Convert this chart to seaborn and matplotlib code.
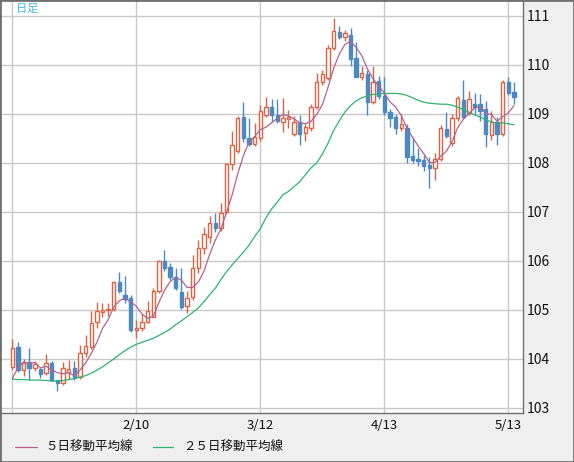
import numpy as np
import pandas as pd
import matplotlib
matplotlib.use("Agg")
import matplotlib.pyplot as plt
from matplotlib.lines import Line2D
from matplotlib.patches import Rectangle
import seaborn as sns

# daily candles, 2021-01-11 .. 2021-05-14 (one per trading day)
opens = [103.84, 104.24, 103.78, 103.93, 103.81, 103.79, 103.71, 103.92, 103.57, 103.50,
         103.74, 103.82, 103.64, 104.12, 104.25, 104.76, 104.95, 104.99, 105.03, 105.57,
         105.31, 105.24, 104.59, 104.63, 104.76, 104.86, 105.39, 106.01, 105.88, 105.68,
         105.37, 105.08, 105.27, 105.85, 106.26, 106.48, 106.77, 106.68, 107.01, 107.97,
         108.25, 108.93, 108.50, 108.39, 108.50, 108.98, 109.14, 108.98, 108.83, 108.90,
         108.59, 108.83, 108.61, 108.71, 109.14, 109.66, 109.74, 110.34, 110.68, 110.57,
         110.61, 110.14, 109.75, 109.82, 109.24, 109.67, 109.37, 109.05, 108.93, 108.72,
         108.71, 108.14, 108.08, 108.06, 107.96, 107.89, 108.09, 108.69, 108.40, 108.91,
         109.29, 109.03, 109.20, 109.20, 109.10, 108.57, 108.84, 108.59, 109.66, 109.45]
highs = [104.41, 104.35, 104.01, 104.22, 103.95, 103.82, 104.10, 103.95, 103.58, 103.94,
         103.98, 103.96, 104.29, 104.48, 104.97, 105.17, 105.15, 105.14, 105.60, 105.78,
         105.69, 105.30, 104.80, 104.91, 105.19, 105.45, 106.03, 106.22, 105.95, 105.85,
         105.85, 105.38, 106.12, 106.43, 106.70, 106.92, 106.97, 107.18, 108.00, 108.65,
         108.95, 109.24, 108.91, 108.81, 109.18, 109.35, 109.31, 109.31, 109.32, 109.08,
         108.95, 108.98, 108.80, 109.20, 109.83, 109.90, 110.40, 110.95, 110.79, 110.72,
         110.75, 110.47, 109.97, 109.90, 109.97, 109.78, 109.76, 109.10, 109.00, 109.00,
         108.80, 108.54, 108.30, 108.17, 108.12, 108.20, 108.78, 109.05, 109.00, 109.37,
         109.69, 109.47, 109.42, 109.40, 109.26, 109.06, 108.94, 109.69, 109.76, 109.65]
lows = [103.78, 103.74, 103.66, 103.57, 103.76, 103.62, 103.67, 103.55, 103.35, 103.47,
        103.60, 103.58, 103.60, 104.05, 104.20, 104.63, 104.85, 104.87, 104.98, 105.34,
        105.14, 104.56, 104.43, 104.58, 104.74, 104.86, 105.35, 105.80, 105.62, 105.40,
        105.03, 104.93, 105.20, 105.75, 106.15, 106.36, 106.60, 106.62, 106.95, 107.86,
        108.20, 108.43, 108.35, 108.35, 108.45, 108.94, 108.84, 108.81, 108.64, 108.71,
        108.55, 108.37, 108.45, 108.65, 109.10, 109.60, 109.70, 110.30, 110.53, 110.48,
        109.97, 109.75, 109.70, 108.98, 109.20, 109.30, 108.98, 108.73, 108.60, 108.65,
        108.00, 108.00, 107.93, 107.83, 107.48, 107.65, 108.05, 108.50, 108.35, 108.85,
        108.91, 108.98, 109.00, 108.86, 108.33, 108.47, 108.36, 108.55, 109.39, 109.20]
closes = [104.23, 103.78, 103.92, 103.81, 103.90, 103.70, 103.91, 103.57, 103.50, 103.81,
          103.79, 103.62, 104.12, 104.27, 104.73, 104.97, 105.00, 105.03, 105.57, 105.39,
          105.22, 104.59, 104.63, 104.76, 104.97, 105.39, 106.01, 105.85, 105.68, 105.44,
          105.07, 105.24, 105.85, 106.26, 106.55, 106.77, 106.68, 106.98, 107.97, 108.37,
          108.91, 108.50, 108.39, 108.54, 109.06, 109.14, 108.97, 108.86, 108.91, 108.93,
          108.83, 108.59, 108.73, 109.15, 109.66, 109.82, 110.34, 110.70, 110.57, 110.65,
          110.12, 109.76, 109.83, 109.25, 109.65, 109.37, 109.05, 108.92, 108.72, 108.79,
          108.13, 108.06, 108.04, 107.94, 107.89, 108.09, 108.71, 108.55, 108.91, 109.32,
          108.94, 109.31, 109.14, 109.07, 108.59, 108.84, 108.59, 109.65, 109.43, 109.35]

# moving averages as drawn on the chart
ma5 = [103.60, 103.82, 103.94, 103.91, 103.93, 103.82, 103.85, 103.78, 103.72, 103.70,
       103.72, 103.66, 103.77, 103.92, 104.11, 104.34, 104.62, 104.80, 105.06, 105.19,
       105.24, 105.16, 105.08, 104.92, 104.83, 104.87, 105.15, 105.40, 105.58, 105.67,
       105.61, 105.46, 105.46, 105.57, 105.79, 106.13, 106.42, 106.65, 106.99, 107.35,
       107.78, 108.15, 108.43, 108.54, 108.68, 108.73, 108.82, 108.91, 108.99, 108.96,
       108.90, 108.82, 108.80, 108.85, 108.99, 109.19, 109.54, 109.93, 110.22, 110.42,
       110.48, 110.36, 110.19, 109.92, 109.72, 109.57, 109.43, 109.25, 109.14, 108.97,
       108.72, 108.52, 108.35, 108.19, 108.01, 108.01, 108.14, 108.24, 108.43, 108.72,
       108.89, 109.01, 109.12, 109.16, 109.01, 108.99, 108.85, 108.95, 109.02, 109.17]
ma25 = [103.59, 103.58, 103.58, 103.57, 103.57, 103.57, 103.56, 103.55, 103.55, 103.56,
        103.58, 103.60, 103.63, 103.66, 103.71, 103.77, 103.84, 103.92, 104.00, 104.09,
        104.17, 104.24, 104.30, 104.34, 104.38, 104.42, 104.48, 104.54, 104.61, 104.70,
        104.78, 104.86, 104.95, 105.04, 105.17, 105.31, 105.44, 105.62, 105.78, 105.92,
        106.05, 106.18, 106.32, 106.50, 106.66, 106.88, 107.06, 107.20, 107.35, 107.42,
        107.52, 107.62, 107.76, 107.90, 108.00, 108.18, 108.40, 108.66, 108.86, 109.04,
        109.17, 109.27, 109.33, 109.37, 109.40, 109.41, 109.42, 109.42, 109.42, 109.41,
        109.38, 109.33, 109.28, 109.24, 109.22, 109.21, 109.20, 109.20, 109.18, 109.14,
        109.09, 109.04, 108.98, 108.94, 108.88, 108.84, 108.81, 108.82, 108.80, 108.78]

grid_days = [0, 22, 44, 66, 88]
label_days = [22, 44, 66, 88]
date_labels = ["2/10", "3/12", "4/13", "5/13"]
price_ticks = [103, 104, 105, 106, 107, 108, 109, 110, 111]
legend_labels = ["５日移動平均線", "２５日移動平均線"]

UP = "#dc6443"
DOWN = "#4b89c2"
MA5_COLOR = "#b4628f"
MA25_COLOR = "#2fb36f"
GRID = "#c8c8c8"
FRAME = "#707070"

df = pd.DataFrame({"open": opens, "high": highs, "low": lows, "close": closes,
                   "ma5": ma5, "ma25": ma25})
df["day"] = np.arange(len(df))
df["up"] = df["close"] >= df["open"]

sns.set_theme(style="white")
plt.rcParams["font.family"] = ["Noto Sans CJK JP", "DejaVu Sans"]

W, H = 574, 462
fig = plt.figure(figsize=(W / 100, H / 100), dpi=100, facecolor="#efefef")
ax = fig.add_axes([1 / W, (H - 412.5) / H, 522 / W, 411.5 / H])
ax.set_facecolor("white")

# grid
for p in price_ticks:
    ax.axhline(p, color=GRID, lw=1.0, zorder=0)
for d in grid_days:
    ax.axvline(d, color=GRID, lw=1.0, zorder=0)

# candles
wick_colors = np.where(df["up"], UP, DOWN)
ax.vlines(df["day"], df["low"], df["high"], colors=wick_colors, lw=1.0, zorder=2)
body_bottom = df[["open", "close"]].min(axis=1)
body_height = np.maximum((df["close"] - df["open"]).abs(), 0.015)
ax.bar(df["day"], body_height, bottom=body_bottom, width=0.6,
       color=np.where(df["up"], "white", DOWN), edgecolor=wick_colors,
       linewidth=1.0, zorder=3)

# moving averages
sns.lineplot(data=df, x="day", y="ma25", color=MA25_COLOR, lw=0.9, ax=ax, zorder=4)
sns.lineplot(data=df, x="day", y="ma5", color=MA5_COLOR, lw=0.9, ax=ax, zorder=5)

ax.set_xlim(-2.0, 90.6)
ax.set_ylim(102.908, 111.306)
ax.set_xlabel("")
ax.set_ylabel("")

ax.yaxis.tick_right()
ax.set_yticks(price_ticks)
ax.set_yticklabels([str(p) for p in price_ticks])
ax.set_xticks(label_days)
ax.set_xticklabels(date_labels)
ax.tick_params(axis="y", length=0, pad=2.5, labelsize=10, colors="#111111")
ax.tick_params(axis="x", length=0, pad=5, labelsize=9.5, colors="#111111")

for side in ["left", "top"]:
    ax.spines[side].set_visible(False)
for side in ["right", "bottom"]:
    ax.spines[side].set_color(FRAME)
    ax.spines[side].set_linewidth(1.0)

fig.text(16 / W, 1 - 9 / H, "日足", color="#3db8e8", fontsize=8, va="center", ha="left")

# legend row
ly = 1 - 447 / H
fig.add_artist(Line2D([15 / W, 37 / W], [ly, ly], color=MA5_COLOR, lw=0.9))
fig.text(45 / W, ly, legend_labels[0], fontsize=9, va="center", ha="left", color="#111111")
fig.add_artist(Line2D([153 / W, 173 / W], [ly, ly], color=MA25_COLOR, lw=0.9))
fig.text(183 / W, ly, legend_labels[1], fontsize=9, va="center", ha="left", color="#111111")

fig.add_artist(Rectangle((0, 0), 1, 1, transform=fig.transFigure, fill=False,
                         edgecolor=FRAME, lw=2))

fig.savefig("out.png", dpi=100, facecolor=fig.get_facecolor())
